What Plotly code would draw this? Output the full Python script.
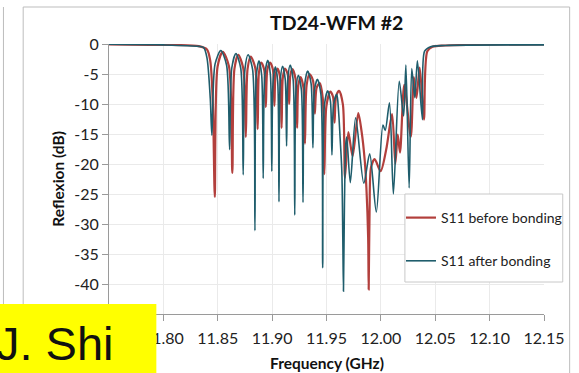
import plotly.graph_objects as go

# ---------------- data ----------------
freq_after = [11.75, 11.80, 11.8325, 11.8371, 11.8401, 11.8431, 11.8446, 11.8475, 11.8528, 11.8581,
              11.8609, 11.8629, 11.8667, 11.8711, 11.8734, 11.8750, 11.8779, 11.8820, 11.8842, 11.8855,
              11.8879, 11.8904, 11.8918, 11.8933, 11.8960, 11.8984, 11.8997, 11.9009, 11.9030, 11.9051,
              11.9063, 11.9075, 11.9096, 11.9120, 11.9133, 11.9145, 11.9166, 11.9193, 11.9208, 11.9220,
              11.9241, 11.9269, 11.9284, 11.9299, 11.9326, 11.9358, 11.9375, 11.9389, 11.9416, 11.9448,
              11.9465, 11.9481, 11.9511, 11.9536, 11.9550, 11.9566, 11.9595, 11.9611, 11.9625, 11.9641,
              11.9650, 11.9656, 11.9665, 11.9677, 11.9686, 11.9719, 11.9768, 11.9843, 11.9897, 11.9958,
              12.0019, 12.0040, 12.0079, 12.0115, 12.0169, 12.0209, 12.0230, 12.0260, 12.0284, 12.0312,
              12.0336, 12.0382, 12.0402, 12.0457, 12.0593, 12.15]
s11_after = [-0.05, -0.15, -0.4, -0.6, -2.3, -9.0, -15.2, -3.36, -1.1, -3.5,
             -17.6, -4.0, -1.6, -4.0, -21.8, -4.2, -1.8, -4.2, -31.1, -5.2,
             -2.8, -5.2, -22.4, -5.1, -2.7, -5.1, -21.2, -6.2, -3.8, -6.2,
             -26.3, -6.1, -3.7, -5.8, -17.0, -5.7, -3.5, -5.9, -28.5, -7.6,
             -5.2, -7.6, -26.4, -6.9, -4.5, -6.55, -17.3, -7.7, -5.9, -8.3,
             -37.3, -10.2, -7.8, -9.5, -18.5, -10.0, -8.4, -11.2, -15.6, -21.2,
             -32.3, -41.2, -26.7, -16.7, -15.5, -23.1, -12.3, -23.2, -18.3, -28.0,
             -13.5, -14.4, -9.8, -25.0, -6.2, -12.0, -3.5, -24.0, -4.1, -8.95,
             -2.8, -12.6, -1.2, -0.45, -0.25, -0.15]

freq_before = [11.75, 11.80, 11.8325, 11.8401, 11.8431, 11.8455, 11.8473, 11.8499, 11.8546, 11.8603,
               11.8634, 11.8653, 11.8688, 11.8734, 11.8758, 11.8774, 11.8803, 11.8845, 11.8867, 11.8878,
               11.8899, 11.8927, 11.8942, 11.8956, 11.8981, 11.9007, 11.9021, 11.9032, 11.9051, 11.9074,
               11.9087, 11.9098, 11.9117, 11.9143, 11.9157, 11.9168, 11.9187, 11.9215, 11.9230, 11.9241,
               11.9262, 11.9288, 11.9302, 11.9317, 11.9344, 11.9376, 11.9393, 11.9409, 11.9438, 11.9465,
               11.9480, 11.9499, 11.9534, 11.9560, 11.9574, 11.9589, 11.9616, 11.9651, 11.9670, 11.9701,
               11.9740, 11.9792, 11.9822, 11.9852, 11.9867, 11.9883, 11.9888, 11.9896, 11.9910,
               11.9943, 11.9997, 12.0049, 12.0103, 12.0133, 12.0155, 12.0176, 12.0215, 12.0275, 12.0303,
               12.0327, 12.0357, 12.0396, 12.0427, 12.0475, 12.0593, 12.15]
s11_before = [-0.05, -0.15, -0.35, -0.9, -2.8, -10.0, -25.5, -3.7, -1.3, -3.7,
              -21.5, -4.2, -1.8, -4.0, -15.5, -4.2, -2.1, -4.0, -14.2, -4.9,
              -3.1, -4.3, -10.5, -4.3, -3.1, -4.25, -10.3, -5.1, -4.1, -5.7,
              -14.0, -5.7, -4.1, -5.05, -10.0, -5.1, -4.2, -5.8, -14.0, -6.9,
              -5.5, -7.3, -16.6, -6.9, -5.0, -6.1, -11.6, -7.3, -6.5, -8.9,
              -21.7, -10.35, -7.95, -8.8, -13.1, -8.65, -7.8, -10.1, -22.3, -14.7,
              -18.7, -11.5, -14.5, -19.5, -24.0, -32.3, -40.9, -28.0, -20.5,
              -19.2, -21.2, -17.6, -11.7, -20.0, -15.1, -18.1, -6.8, -15.5, -5.5,
              -9.0, -3.95, -12.6, -1.2, -0.45, -0.25, -0.05]

x_ticks = [11.75, 11.80, 11.85, 11.90, 11.95, 12.00, 12.05, 12.10, 12.15]
x_tick_labels = ["", "11.80", "11.85", "11.90", "11.95", "12.00", "12.05", "12.10", "12.15"]
y_ticks = [0, -5, -10, -15, -20, -25, -30, -35, -40, -45]
y_tick_labels = ["0", "-5", "-10", "-15", "-20", "-25", "-30", "-35", "-40", ""]

RED = "#B23F3C"
TEAL = "#1F5D6C"

# pixel geometry of the plot area
W, H = 579, 373
L, R, T, B = 109, 550, 44, 314


def px(x):
    return (x - L) / (R - L)


def py(y):
    return (B - y) / (B - T)


fig = go.Figure()
fig.add_trace(go.Scatter(x=freq_before, y=s11_before, mode="lines", name="S11 before bonding",
                         line=dict(color=RED, width=2.2, shape="spline", smoothing=0.8),
                         legendgroup="a"))
fig.add_trace(go.Scatter(x=freq_after, y=s11_after, mode="lines", name="S11 after bonding",
                         line=dict(color=TEAL, width=1.6, shape="spline", smoothing=0.8),
                         legendgroup="b"))

FONT = "Lato"
axis_common = dict(showgrid=True, gridcolor="#EAEAEA", gridwidth=1, zeroline=False,
                   showline=True, linecolor="#9A9A9A", linewidth=1,
                   ticks="outside", ticklen=6, tickcolor="#9A9A9A",
                   tickfont=dict(family=FONT, size=16, color="#222222"))

fig.update_layout(
    width=W, height=H,
    margin=dict(l=L, r=W - R, t=T, b=H - B),
    paper_bgcolor="white", plot_bgcolor="white",
    showlegend=True,
    legend=dict(x=px(405), y=py(202), xanchor="left", yanchor="top",
                bgcolor="rgba(0,0,0,0)", borderwidth=0,
                font=dict(family=FONT, size=14, color="#222222"),
                traceorder="grouped", tracegroupgap=22),
    xaxis=dict(range=[11.75, 12.15], tickvals=x_ticks, ticktext=x_tick_labels,
               ticklabelstandoff=4, **axis_common),
    yaxis=dict(range=[-45, 0], tickvals=y_ticks, ticktext=y_tick_labels, **axis_common),
)

shapes = [
    # outer chart frame
    dict(type="rect", xref="paper", yref="paper", x0=px(22), x1=px(576), y0=py(380), y1=py(7),
         line=dict(color="#BDBDBD", width=1), fillcolor="rgba(0,0,0,0)", layer="below"),
    # neighbouring chart's edge
    dict(type="line", xref="paper", yref="paper", x0=px(2), x1=px(2), y0=py(304), y1=py(7),
         line=dict(color="#BDBDBD", width=1), layer="below"),
    # legend box
    dict(type="rect", xref="paper", yref="paper", x0=px(409), x1=px(569), y0=py(282), y1=py(194),
         line=dict(color="#C8C8C8", width=1), fillcolor="white", layer="above"),
    # yellow name box
    dict(type="rect", xref="paper", yref="paper", x0=px(-5), x1=px(157), y0=py(380), y1=py(304),
         line=dict(width=0), fillcolor="#FFFF00", layer="above"),
]
fig.update_layout(shapes=shapes)

annotations = [
    dict(text="<b>TD24-WFM #2</b>", x=px(340), y=py(22), xref="paper", yref="paper",
         showarrow=False, xanchor="center", yanchor="middle",
         font=dict(family=FONT, size=19.5, color="#111111")),
    dict(text="<b>Reflexion (dB)</b>", x=px(57), y=py(179), xref="paper", yref="paper",
         showarrow=False, xanchor="center", yanchor="middle", textangle=-90,
         font=dict(family=FONT, size=15.5, color="#111111")),
    dict(text="<b>Frequency (GHz)</b>", x=px(330), y=py(363), xref="paper", yref="paper",
         showarrow=False, xanchor="center", yanchor="middle",
         font=dict(family=FONT, size=15.5, color="#111111")),
    dict(text="J. Shi", x=px(-8), y=py(343), xref="paper", yref="paper",
         showarrow=False, xanchor="left", yanchor="middle",
         font=dict(family="Liberation Sans", size=47, color="#111111")),
]
fig.update_layout(annotations=annotations)

fig.write_html("out.html")
